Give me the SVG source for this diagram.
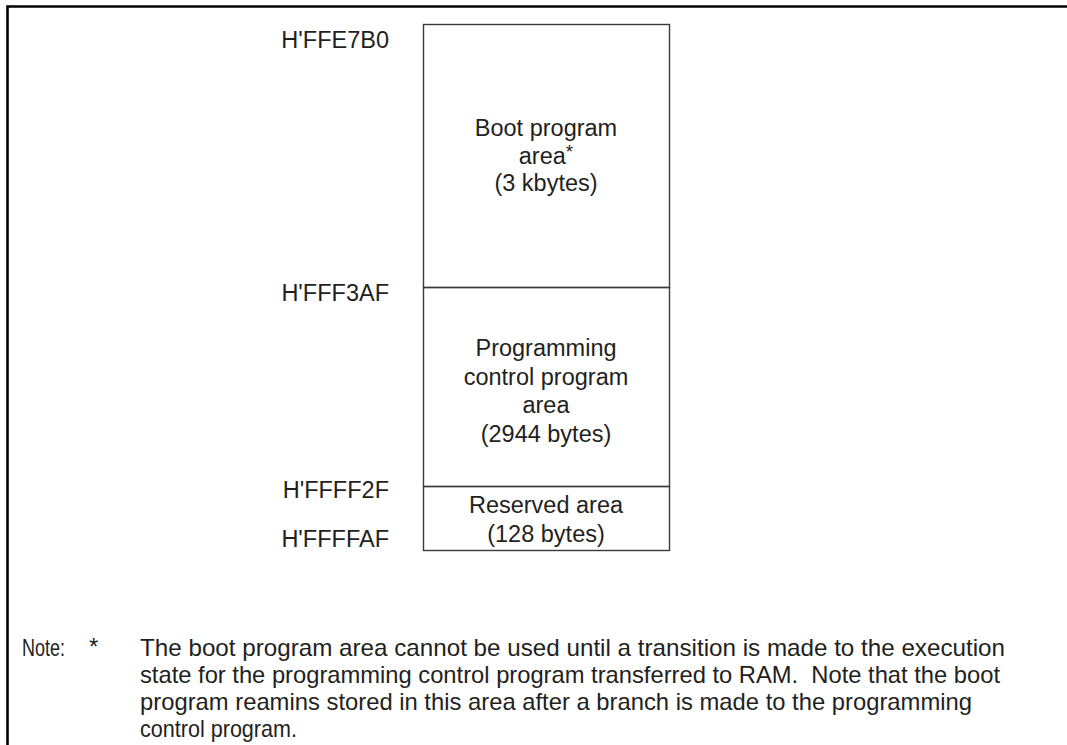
<svg xmlns="http://www.w3.org/2000/svg" width="1067" height="745" viewBox="0 0 1067 745">
<style>
.t{font-family:"Liberation Sans",Arial,sans-serif;font-size:23.5px;fill:#231f20}
.c{text-anchor:middle}
.r{text-anchor:end}
.n{font-family:"Liberation Sans",Arial,sans-serif;font-size:24px;fill:#231f20;white-space:pre}
.box{fill:none;stroke:#3a3a3a;stroke-width:1.4}
.frame{fill:none;stroke:#000;stroke-width:2.6}
</style>
<rect width="1067" height="745" fill="#fff"/>
<g id="frame">
<path class="frame" d="M7.5 745 V6.5 H1067"/>
</g>
<g id="labels">
<text class="t r" x="389" y="48">H'FFE7B0</text>
<text class="t r" x="389" y="300.5">H'FFF3AF</text>
<text class="t r" x="389" y="498">H'FFFF2F</text>
<text class="t r" x="389" y="547">H'FFFFAF</text>
</g>
<g id="boot-area">
<rect class="box" x="423.5" y="24.5" width="246" height="263"/>
<text class="t c" x="546" y="136">Boot program</text>
<text class="t c" x="546" y="163.5">area<tspan font-size="19" dy="-6">*</tspan></text>
<text class="t c" x="546" y="191">(3 kbytes)</text>
</g>
<g id="control-area">
<rect class="box" x="423.5" y="287.5" width="246" height="199"/>
<text class="t c" x="546" y="356">Programming</text>
<text class="t c" x="546" y="384.5">control program</text>
<text class="t c" x="546" y="413">area</text>
<text class="t c" x="546" y="441.5">(2944 bytes)</text>
</g>
<g id="reserved-area">
<rect class="box" x="423.5" y="486.5" width="246" height="64"/>
<text class="t c" x="546" y="513">Reserved area</text>
<text class="t c" x="546" y="541.5">(128 bytes)</text>
</g>
<g id="connectors"></g>
<g id="note">
<text class="n" x="22" y="656" textLength="43" lengthAdjust="spacingAndGlyphs">Note:</text>
<text class="n" x="89" y="655" font-size="20" fill="#555">*</text>
<text class="n" x="140" y="656" textLength="865" lengthAdjust="spacingAndGlyphs">The boot program area cannot be used until a transition is made to the execution</text>
<text class="n" x="140" y="683" textLength="860" lengthAdjust="spacingAndGlyphs">state for the programming control program transferred to RAM.  Note that the boot</text>
<text class="n" x="140" y="710" textLength="832" lengthAdjust="spacingAndGlyphs">program reamins stored in this area after a branch is made to the programming</text>
<text class="n" x="140" y="737" textLength="157" lengthAdjust="spacingAndGlyphs">control program.</text>
</g>
</svg>
